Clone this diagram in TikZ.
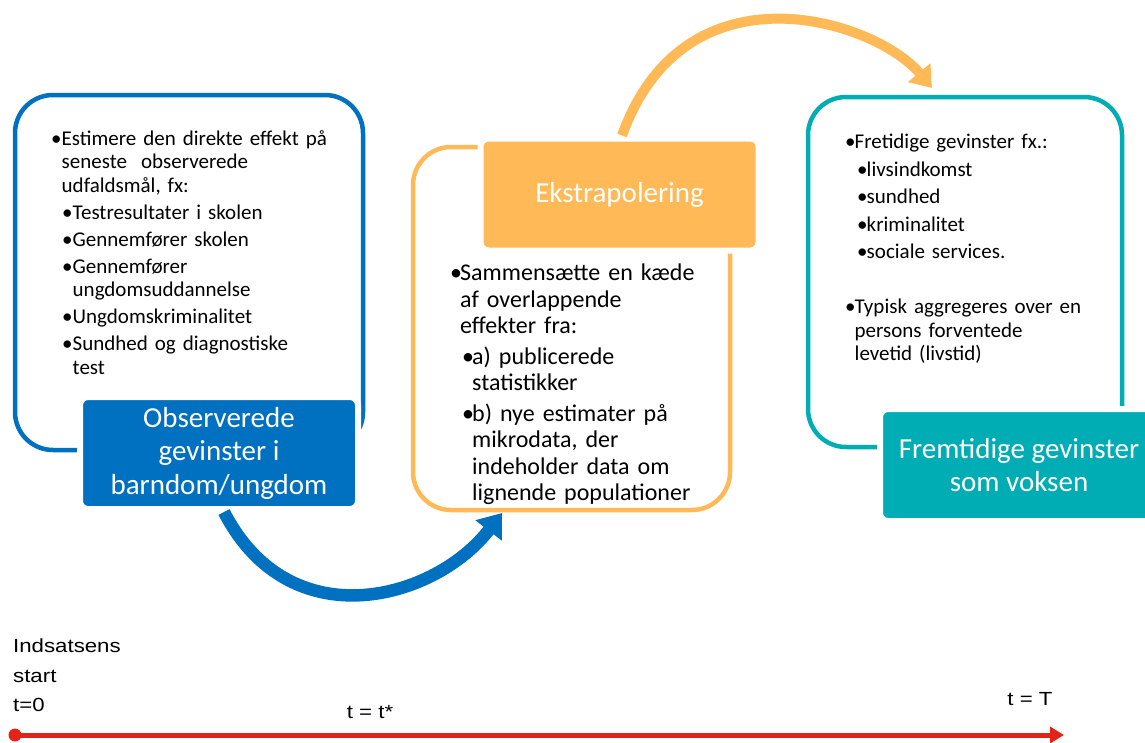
\documentclass[tikz,border=0pt]{standalone}
\usepackage{fontspec}
\setmainfont{Carlito}
\newfontfamily\axisfont[FakeStretch=1.17]{Liberation Sans}
\usetikzlibrary{arrows.meta}
\definecolor{obsblue}{HTML}{0070C0}
\definecolor{extorange}{HTML}{FFB957}
\definecolor{futteal}{HTML}{00ADB5}
\definecolor{timered}{HTML}{E2231A}
\newlength{\bulw}
\newcommand{\bul}[2]{\par\hangindent=\dimexpr#1+\bulw\relax\hangafter=1\noindent\hspace*{#1}\makebox[\bulw][l]{\textbullet}#2}
\tikzset{
  stageframe/.style={line width=4.5pt, rounded corners=38pt},
  headbox/.style={draw=white, line width=6pt, rounded corners=8pt, text=white, align=center,
    inner sep=0pt, minimum width=278pt, minimum height=112pt, font=\fontsize{29}{33.5}\selectfont},
  bodytext/.style={anchor=north west, inner sep=0pt, align=left},
  bigarrow/.style={line width=12.5pt, -{Triangle[width=32pt,length=22pt]}},
  smallarrow/.style={line width=10pt, -{Triangle[width=28pt,length=20pt]}},
  axislabel/.style={font=\axisfont\fontsize{19}{22}\selectfont, inner sep=0pt}
}

\begin{document}
\begin{tikzpicture}[x=1pt,y=-1pt]
    \useasboundingbox (0,0) rectangle (1145,742);
    % rounded frames
    \draw[stageframe, obsblue] (15,95) rectangle (363,450);
    \draw[stageframe, extorange] (413,147) rectangle (730,510);
    \draw[stageframe, futteal] (808,97) rectangle (1122,447);
    % headers
    \node[headbox, fill=obsblue] (obshead) at (219,453) {Observerede\\gevinster i\\barndom/ungdom};
    \node[headbox, fill=extorange] (exthead) at (619.5,194.5) {Ekstrapolering};
    \node[headbox, fill=futteal] (futhead) at (1019,465) {Fremtidige gevinster\\som voksen};
    % bullet texts
    \node[bodytext, text width=320pt, font=\fontsize{21}{23.5}\selectfont] (obstext) at (51,118) {%
      \setlength{\parskip}{3.5pt}\setlength{\bulw}{10.5pt}%
      \bul{0pt}{Estimere den direkte effekt på\newline seneste~ observerede\newline udfaldsmål, fx:}
      \bul{11pt}{Testresultater i skolen}
      \bul{11pt}{Gennemfører skolen}
      \bul{11pt}{Gennemfører\newline ungdomsuddannelse}
      \bul{11pt}{Ungdomskriminalitet}
      \bul{11pt}{Sundhed og diagnostiske\newline test}\par};
    \node[bodytext, text width=300pt, font=\fontsize{24}{26.5}\selectfont] (exttext) at (450,250) {%
      \setlength{\parskip}{4pt}\setlength{\bulw}{10pt}%
      \bul{0pt}{Sammensætte en kæde\newline af overlappende\newline effekter fra:}
      \bul{12pt}{a) publicerede\newline statistikker}
      \bul{12pt}{b) nye estimater på\newline mikrodata, der\newline indeholder data om\newline lignende populationer}\par};
    \node[bodytext, text width=290pt, font=\fontsize{21}{23.5}\selectfont] (futtext) at (845,121) {%
      \setlength{\parskip}{4pt}\setlength{\bulw}{9.5pt}%
      \bul{0pt}{Fretidige gevinster fx.:}
      \bul{12pt}{livsindkomst}
      \bul{12pt}{sundhed}
      \bul{12pt}{kriminalitet}
      \bul{12pt}{sociale services.}
      \par\vspace{27.5pt}
      \bul{0pt}{Typisk aggregeres over en\newline persons forventede\newline levetid (livstid)}\par};
    % curved arrows between stages
    \coordinate (extin) at (502,513);
    \coordinate (futin) at (932,88);
    \draw[bigarrow, obsblue] ([xshift=5pt]obshead.south) .. controls (290,640) and (435,600) .. (extin);
    \draw[smallarrow, extorange] ([xshift=2.5pt]exthead.north) .. controls (685,-40) and (875,20) .. (futin);
    % time axis
    \coordinate (tzero) at (15,735);
    \coordinate (tend) at (1064,735);
    \draw[timered, line width=5pt, -{Triangle[width=16pt,length=14pt]}] (tzero) -- (tend);
    \fill[timered] (tzero) circle (6.5pt);
    \node[axislabel, anchor=base west] (startlbl) at (13,652) {Indsatsens};
    \node[axislabel, anchor=base west] (startlbl2) at (13,682) {start};
    \node[axislabel, anchor=base west] (zerolbl) at (13,711) {t=0};
    \node[axislabel, anchor=base] (midlbl) at (370,718) {t = t*};
    \node[axislabel, anchor=base] (endlbl) at (1030,705) {t = T};
\end{tikzpicture}
\end{document}
